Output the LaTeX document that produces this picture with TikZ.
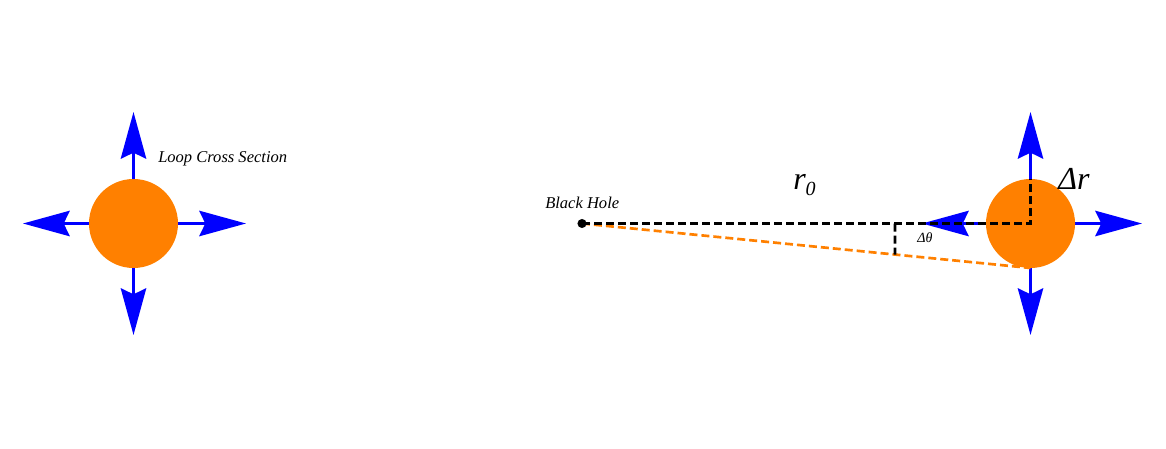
\documentclass[tikz,border=0pt]{standalone}
\usepackage{fontspec}
\setmainfont{Liberation Serif}
\usetikzlibrary{arrows.meta,calc}
\definecolor{blobor}{RGB}{255,128,0}
\definecolor{arrblue}{RGB}{0,0,255}
\begin{document}
\begin{tikzpicture}[x=0.75pt,y=-0.75pt,
  blob/.style={circle, fill=blobor, draw=none, minimum size=66.75pt, inner sep=0pt},
  push/.style={arrblue, line width=2.3pt, -{Stealth[length=35pt,width=19pt,inset=4.5pt]}},
  guide/.style={black, line width=2pt, dash pattern=on 6pt off 3pt},
  orguide/.style={blobor, line width=2pt, dash pattern=on 6pt off 3pt},
  smalllbl/.style={inner sep=0pt, anchor=base west, font=\fontsize{12.4}{14}\selectfont\itshape},
  biglbl/.style={inner sep=0pt, anchor=base west, font=\fontsize{24}{28}\selectfont\itshape},
  tinylbl/.style={inner sep=0pt, anchor=base west, font=\fontsize{10.5}{12}\selectfont\itshape}]
\useasboundingbox (0,0) rectangle (1166,449);

% left loop
\coordinate (Lc) at (133.5,223.5);
\coordinate (Lu) at (133.5,112);
\coordinate (Ld) at (133.5,335);
\coordinate (Ll) at (23,223.5);
\coordinate (Lr) at (246,223.5);
\draw[push] (Lc) -- (Lu);
\draw[push] (Lc) -- (Ld);
\draw[push] (Lc) -- (Ll);
\draw[push] (Lc) -- (Lr);
\node[blob] (L) at (Lc) {};
\node[smalllbl] (lcs) at (158,162) {Loop Cross Section};

% right loop
\coordinate (Rc) at (1030.5,223.5);
\coordinate (Ru) at (1030.5,112);
\coordinate (Rd) at (1030.5,335);
\coordinate (Rl) at (922,223.5);
\coordinate (Rr) at (1142,223.5);
\draw[push] (Rc) -- (Ru);
\draw[push] (Rc) -- (Rd);
\draw[push] (Rc) -- (Rl);
\draw[push] (Rc) -- (Rr);

% black hole and guides
\coordinate (BH) at (582,223.5);
\coordinate (Rb) at (1030.5,268);
\draw[orguide] (BH) -- (Rb);
\node[blob] (R) at (Rc) {};

\coordinate (Rt) at (1030.5,179);
\draw[guide] (BH) -- (R.center) -- (Rt);
\coordinate (Ta) at (895,223.5);
\coordinate (Tb) at ($(BH)!0.6979!(Rb)$);
\draw[guide] (Ta) -- (Tb);
\fill[black] (BH) circle (3.4pt);

% labels
\node[smalllbl] (bhl) at (545,208) {Black Hole};
\node[biglbl] (r0) at (793,190) {r\raisebox{-4pt}{\fontsize{15}{17}\selectfont 0}};
\node[biglbl] (dr) at (1058,190) {Δr};
\node[tinylbl] (dt) at (917,242) {Δθ};
\end{tikzpicture}
\end{document}
